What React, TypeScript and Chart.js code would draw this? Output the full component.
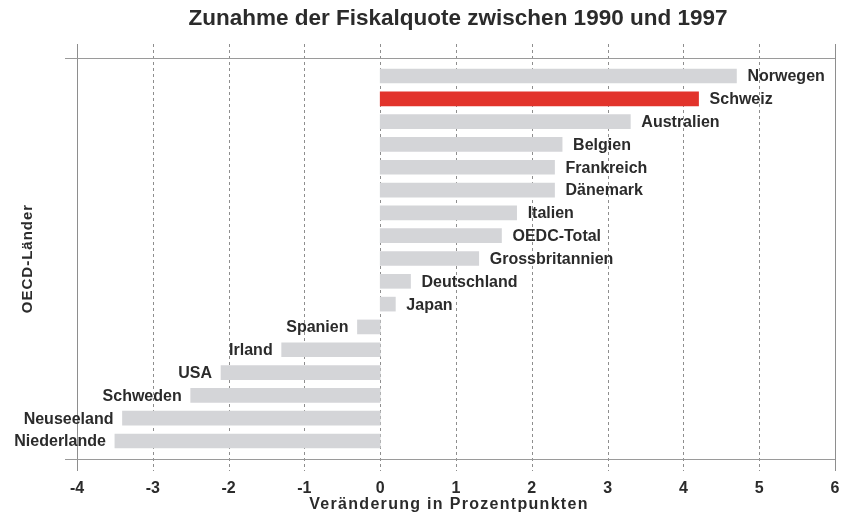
import React, { useEffect, useRef } from "react";
import { Chart, registerables } from "chart.js";

Chart.register(...registerables);

const chartTitle = "Zunahme der Fiskalquote zwischen 1990 und 1997";
const xAxisTitle = "Veränderung in Prozentpunkten";
const yAxisTitle = "OECD-Länder";

const countries = [
  "Norwegen",
  "Schweiz",
  "Australien",
  "Belgien",
  "Frankreich",
  "Dänemark",
  "Italien",
  "OEDC-Total",
  "Grossbritannien",
  "Deutschland",
  "Japan",
  "Spanien",
  "Irland",
  "USA",
  "Schweden",
  "Neuseeland",
  "Niederlande",
];

const changes = [4.7, 4.2, 3.3, 2.4, 2.3, 2.3, 1.8, 1.6, 1.3, 0.4, 0.2, -0.3, -1.3, -2.1, -2.5, -3.4, -3.5];

const highlighted = "Schweiz";

const xMin = -4;
const xMax = 6;

const FONT = '"Liberation Sans", Arial, Helvetica, sans-serif';
const TEXT = "#2b2b2b";
const LINE = "#8e8e8e";

const framePlugin = {
  id: "frame",
  beforeDatasetsDraw(chart: any) {
    const { ctx, chartArea } = chart;
    const xs = chart.scales.x;
    const top = chartArea.top;
    const bottom = chartArea.bottom;
    const left = chartArea.left;
    const right = chartArea.right;
    ctx.save();
    ctx.strokeStyle = LINE;
    ctx.lineWidth = 1;
    xs.ticks.forEach((t: any) => {
      const px = Math.round(xs.getPixelForValue(t.value)) + 0.5;
      const edge = t.value === xMin || t.value === xMax;
      ctx.setLineDash(edge ? [] : [3, 3]);
      ctx.beginPath();
      ctx.moveTo(px, top - 14);
      ctx.lineTo(px, bottom + 12);
      ctx.stroke();
    });
    ctx.setLineDash([]);
    ctx.strokeStyle = "#9a9a9a";
    ctx.beginPath();
    ctx.moveTo(left - 12, Math.round(top) + 0.5);
    ctx.lineTo(right, Math.round(top) + 0.5);
    ctx.moveTo(left - 12, Math.round(bottom) + 0.5);
    ctx.lineTo(right, Math.round(bottom) + 0.5);
    ctx.stroke();
    ctx.restore();
  },
  afterDatasetsDraw(chart: any) {
    const { ctx, chartArea } = chart;
    const meta = chart.getDatasetMeta(0);
    ctx.save();
    ctx.fillStyle = TEXT;
    ctx.font = `bold 16px ${FONT}`;
    ctx.textBaseline = "middle";
    meta.data.forEach((bar: any, i: number) => {
      const v = changes[i];
      if (v >= 0) {
        ctx.textAlign = "left";
        ctx.fillText(countries[i], bar.x + 11, bar.y + 1);
      } else {
        ctx.textAlign = "right";
        ctx.fillText(countries[i], bar.x - 9, bar.y + 1);
      }
    });
    const cx = (chartArea.left + chartArea.right) / 2;
    ctx.textAlign = "center";
    ctx.font = `bold 22.5px ${FONT}`;
    ctx.fillText(chartTitle, cx + 2, 19);
    ctx.font = `bold 16px ${FONT}`;
    (ctx as any).letterSpacing = "1.3px";
    ctx.fillText(xAxisTitle, cx - 7, 505);
    (ctx as any).letterSpacing = "1px";
    ctx.font = `bold 15px ${FONT}`;
    ctx.translate(28, (chartArea.top + chartArea.bottom) / 2);
    ctx.rotate(-Math.PI / 2);
    ctx.fillText(yAxisTitle, 0, 0);
    ctx.restore();
  },
};

export default function App() {
  const canvasRef = useRef<HTMLCanvasElement | null>(null);

  useEffect(() => {
    if (!canvasRef.current) return;
    const chart = new Chart(canvasRef.current, {
      type: "bar",
      data: {
        labels: countries,
        datasets: [
          {
            data: changes.map((v, i) => ({ x: v, y: i })) as any,
            backgroundColor: countries.map((c) => (c === highlighted ? "#e2332b" : "#d4d5d8")),
            borderWidth: 0,
            barThickness: 14,
          },
        ],
      },
      options: {
        indexAxis: "y",
        responsive: false,
        animation: false,
        layout: { padding: { left: 77, top: 58, right: 6, bottom: 0 } },
        plugins: {
          legend: { display: false },
          tooltip: { enabled: false },
          title: { display: false },
        },
        scales: {
          x: {
            type: "linear",
            min: xMin,
            max: xMax,
            ticks: {
              stepSize: 1,
              color: TEXT,
              font: { family: FONT, size: 16, weight: "bold" },
              padding: 20,
            },
            grid: { display: false, drawTicks: false },
            border: { display: false },
            afterFit: (scale: any) => {
              scale.height = 56;
              scale.paddingLeft = 0;
              scale.paddingRight = 0;
            },
          },
          y: {
            type: "linear",
            reverse: true,
            offset: false,
            min: -0.79,
            max: countries.length - 1 + 0.79,
            display: false,
          },
        },
      },
      plugins: [framePlugin],
    });
    return () => chart.destroy();
  }, []);

  return (
    <div style={{ position: "absolute", left: 0, top: 0, width: 841, height: 515, background: "#fff" }}>
      <canvas ref={canvasRef} width={841} height={515} style={{ display: "block" }} />
    </div>
  );
}
